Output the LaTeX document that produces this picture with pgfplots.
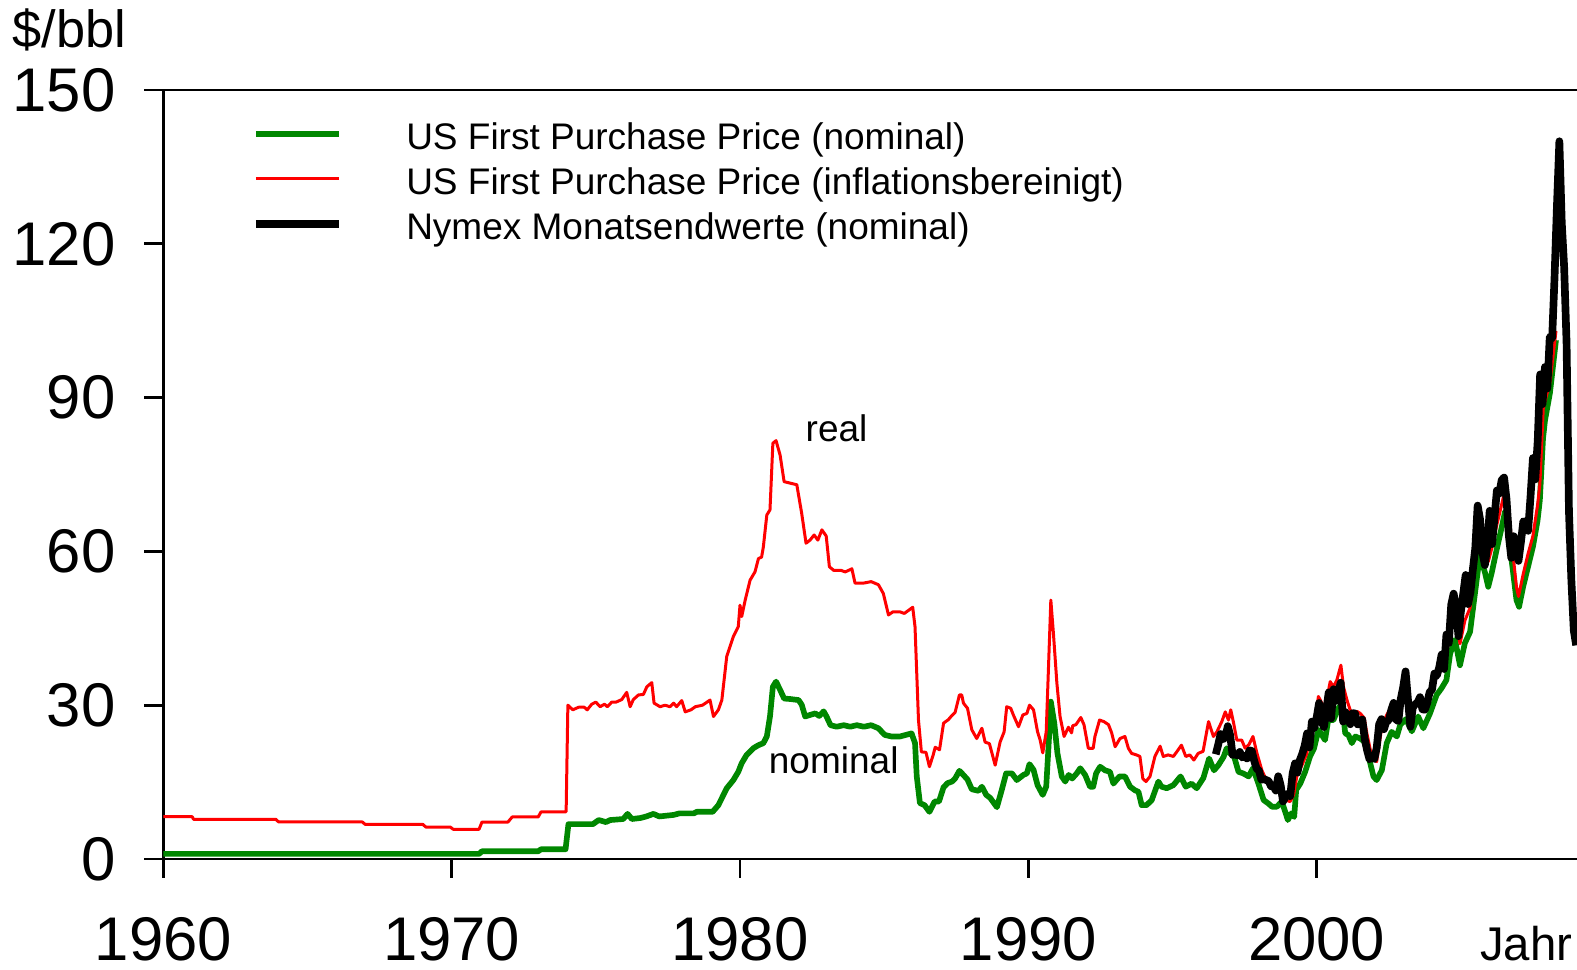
\documentclass[border=0pt]{standalone}
\usepackage{fontspec}
\setmainfont{Liberation Sans}
\usepackage{pgfplots}
\pgfplotsset{compat=1.18}
\definecolor{nomgreen}{RGB}{0,135,0}
\definecolor{realred}{RGB}{255,0,0}
\begin{document}
\begin{tikzpicture}
\useasboundingbox (-49pt,-33.3pt) rectangle (424.1pt,257.7pt);
\begin{axis}[
  scale only axis,
  width=424.1pt, height=230.7pt,
  xmin=1960, xmax=2009.03,
  ymin=0, ymax=150,
  axis x line*=box, axis y line*=left,
  axis line style={-, line width=0.8pt},
  tick pos=left,
  tick align=outside,
  major tick length=5.7pt,
  every tick/.style={black, line width=0.8pt},
  xtick={1960,1970,1980,1990,2000},
  ytick={0,30,60,90,120,150},
  /pgf/number format/1000 sep={},
  /pgf/number format/assume math mode=true,
  ticklabel style={font=\fontsize{18.5}{21}\selectfont, inner sep=0pt},
  yticklabel style={anchor=east, xshift=-8.5pt},
  xticklabel style={anchor=base, yshift=-24.8pt},
  xlabel={Jahr},
  xlabel style={font=\fontsize{14.2}{16}\selectfont, at={(axis description cs:0.9972,-0.1320)}, anchor=base east, inner sep=0pt},
  ylabel={\$/bbl},
  ylabel style={font=\fontsize{15.7}{18}\selectfont, rotate=-90, at={(axis description cs:-0.1070,1.0546)}, anchor=base west, inner sep=0pt},
  legend cell align=left,
  legend style={draw=none, fill=none, at={(axis description cs:0.0622,0.960)}, anchor=north west,
    font=\fontsize{11.1}{13}\selectfont, row sep=2.5pt, inner sep=0pt,
    nodes={inner sep=0pt, text height=8.5pt, text depth=2.5pt}},
  legend image code/.code={\draw[#1, line cap=butt] (0pt,1.8pt) -- (24.9pt,1.8pt); \path (44.0pt,1.8pt);},
]
\addplot[nomgreen, line width=1.7pt, line join=round] coordinates {
(1960,1.0) (1970.95,1.0) (1971.05,1.5) (1973.0,1.5) (1973.1,1.9) (1973.95,1.9) (1974.05,6.8) (1974.9,6.8)
(1975.1,7.6) (1975.35,7.2) (1975.5,7.6) (1975.95,7.8) (1976.1,8.8) (1976.25,7.8) (1976.55,8.0) (1976.75,8.3)
(1977.0,8.8) (1977.2,8.3) (1977.7,8.6) (1977.9,8.9) (1978.4,8.9) (1978.5,9.2) (1979.05,9.2) (1979.25,10.5)
(1979.54,13.8) (1979.77,15.4) (1979.94,17.0) (1980.06,18.7) (1980.23,20.3) (1980.46,21.6) (1980.64,22.2)
(1980.81,22.6) (1980.93,23.9) (1981.04,27.8) (1981.14,33.6) (1981.25,34.6) (1981.39,33.0) (1981.53,31.3)
(1981.75,31.2) (1982.03,31.0) (1982.14,30.1) (1982.26,27.8) (1982.43,28.1) (1982.61,28.4) (1982.75,27.9)
(1982.9,28.8) (1983.0,27.8) (1983.14,26.1) (1983.35,25.8) (1983.6,26.1) (1983.82,25.8) (1984.05,26.1)
(1984.3,25.8) (1984.55,26.1) (1984.8,25.5) (1985.02,24.2) (1985.25,23.9) (1985.55,23.9) (1985.95,24.5)
(1986.07,22.6) (1986.13,16.1) (1986.24,10.9) (1986.4,10.5) (1986.57,9.2) (1986.75,11.2) (1986.9,11.2)
(1987.06,14.0) (1987.2,14.8) (1987.35,15.1) (1987.46,15.7) (1987.61,17.2) (1987.73,16.5) (1987.89,15.5)
(1988.04,13.6) (1988.27,13.3) (1988.39,14.1) (1988.54,12.5) (1988.68,11.9) (1988.91,10.1) (1989.08,13.5)
(1989.23,16.7) (1989.43,16.7) (1989.6,15.4) (1989.83,16.4) (1989.95,16.7) (1990.04,18.5) (1990.18,17.4)
(1990.32,14.4) (1990.5,12.5) (1990.62,14.1) (1990.7,21.9) (1990.78,30.7) (1990.9,26.5) (1991.01,20.6)
(1991.16,16.1) (1991.28,15.1) (1991.4,16.4) (1991.52,15.7) (1991.68,16.7) (1991.8,17.7) (1991.97,16.4)
(1992.14,14.1) (1992.25,14.1) (1992.35,16.7) (1992.49,18.0) (1992.66,17.3) (1992.83,17.0) (1992.95,14.7)
(1993.16,16.1) (1993.35,16.1) (1993.53,14.1) (1993.7,13.4) (1993.82,13.1) (1993.93,10.5) (1994.1,10.5)
(1994.28,11.5) (1994.51,15.1) (1994.62,14.1) (1994.8,13.8) (1995.03,14.4) (1995.28,16.1) (1995.46,14.1)
(1995.66,14.7) (1995.84,13.8) (1996.07,15.8) (1996.27,19.6) (1996.44,17.3) (1996.59,18.3) (1996.77,19.9)
(1996.88,21.6) (1997.0,20.6) (1997.14,19.9) (1997.29,17.0) (1997.45,16.7) (1997.64,16.1) (1997.79,17.7)
(1997.98,14.7) (1998.16,11.5) (1998.33,10.8) (1998.45,10.2) (1998.62,10.2) (1998.79,11.2) (1998.91,9.2)
(1999.0,7.6) (1999.12,8.9) (1999.22,8.2) (1999.29,13.5) (1999.43,14.7) (1999.6,17.0) (1999.77,20.0)
(1999.91,21.6) (2000.06,25.2) (2000.18,24.2) (2000.29,23.2) (2000.4,27.1) (2000.58,27.1) (2000.78,29.7)
(2000.9,29.4) (2000.99,24.5) (2001.1,24.2) (2001.22,22.6) (2001.34,23.9) (2001.51,23.5) (2001.65,22.9)
(2001.8,20.0) (2001.97,16.1) (2002.08,15.4) (2002.26,17.3) (2002.43,22.6) (2002.6,24.8) (2002.78,23.9)
(2002.9,26.2) (2003.1,27.3) (2003.3,24.9) (2003.52,27.8) (2003.7,25.5) (2003.93,28.4) (2004.16,32.0)
(2004.33,33.3) (2004.5,34.9) (2004.63,40.1) (2004.8,42.7) (2004.97,37.8) (2005.14,42.1) (2005.32,44.3)
(2005.43,49.2) (2005.66,59.3) (2005.84,55.8) (2005.95,53.1) (2006.07,55.8) (2006.24,60.3) (2006.41,64.5)
(2006.53,67.7) (2006.64,64.8) (2006.76,58.3) (2006.93,50.5) (2007.02,49.2) (2007.16,53.1) (2007.33,57.0)
(2007.5,60.9) (2007.66,66.0) (2007.74,70.0) (2007.85,82.0) (2007.92,85.6) (2008.09,90.9) (2008.3,101.2)
};
\addlegendentry{US First Purchase Price (nominal)}
\addplot[realred, line width=0.9pt, line join=round] coordinates {
(1960,8.25) (1961.0,8.25) (1961.05,7.74) (1963.9,7.74) (1964.0,7.22) (1966.9,7.22) (1967.0,6.76) (1969.0,6.76)
(1969.1,6.24) (1969.95,6.24) (1970.05,5.8) (1970.95,5.8) (1971.05,7.2) (1971.95,7.2) (1972.1,8.2) (1973.0,8.2)
(1973.1,9.2) (1973.97,9.2) (1974.03,30.0) (1974.2,29.1) (1974.4,29.6) (1974.6,29.6) (1974.7,29.1) (1974.86,30.2)
(1975.0,30.6) (1975.15,29.7) (1975.3,30.2) (1975.4,29.7) (1975.55,30.6) (1975.7,30.6) (1975.9,31.1) (1976.07,32.5)
(1976.19,29.7) (1976.3,31.1) (1976.48,32.0) (1976.65,32.1) (1976.77,33.6) (1976.94,34.4) (1977.02,30.4)
(1977.23,29.7) (1977.4,30.0) (1977.57,29.7) (1977.7,30.4) (1977.8,29.7) (1977.98,30.9) (1978.1,28.7)
(1978.3,29.1) (1978.45,29.7) (1978.7,30.0) (1978.96,31.0) (1979.08,27.8) (1979.25,29.1) (1979.37,31.0)
(1979.54,39.5) (1979.77,43.4) (1979.94,45.3) (1980.0,49.5) (1980.06,47.3) (1980.18,50.5) (1980.35,54.4)
(1980.52,56.0) (1980.64,58.6) (1980.75,58.9) (1980.81,60.9) (1980.93,67.1) (1981.04,68.1) (1981.14,81.1)
(1981.25,81.6) (1981.39,78.8) (1981.53,73.6) (1981.75,73.3) (1981.97,73.0) (1982.14,67.4) (1982.29,61.6)
(1982.43,62.2) (1982.57,63.2) (1982.7,62.2) (1982.84,64.2) (1982.99,63.0) (1983.1,57.0) (1983.25,56.3)
(1983.5,56.3) (1983.65,56.0) (1983.88,56.6) (1983.99,53.8) (1984.27,53.8) (1984.55,54.1) (1984.8,53.5)
(1984.97,51.8) (1985.15,47.6) (1985.3,48.2) (1985.55,48.2) (1985.7,47.9) (1985.99,49.1) (1986.07,45.3)
(1986.19,27.1) (1986.29,20.9) (1986.45,20.8) (1986.57,18.0) (1986.7,20.3) (1986.77,21.8) (1986.92,21.3)
(1987.06,26.5) (1987.23,27.2) (1987.35,28.0) (1987.46,28.6) (1987.54,30.4) (1987.61,32.0) (1987.69,32.0)
(1987.75,30.4) (1987.89,29.4) (1988.04,25.2) (1988.21,23.5) (1988.39,25.5) (1988.5,22.8) (1988.65,22.5)
(1988.85,18.3) (1989.02,22.8) (1989.16,24.8) (1989.25,29.7) (1989.39,29.4) (1989.48,28.1) (1989.66,25.8)
(1989.81,28.1) (1989.95,28.4) (1990.04,30.0) (1990.18,29.1) (1990.32,24.8) (1990.41,23.2) (1990.5,20.7)
(1990.62,24.8) (1990.7,37.5) (1990.78,50.5) (1990.87,44.0) (1990.99,34.3) (1991.1,27.8) (1991.24,23.9)
(1991.39,25.7) (1991.5,24.6) (1991.54,26.0) (1991.65,26.2) (1991.82,27.6) (1991.93,26.2) (1992.08,21.6)
(1992.25,21.6) (1992.31,23.9) (1992.47,27.1) (1992.62,26.8) (1992.78,26.2) (1992.89,24.6) (1993.01,21.9)
(1993.18,23.5) (1993.35,23.9) (1993.47,21.6) (1993.58,20.6) (1993.75,20.3) (1993.87,20.0) (1993.97,15.7)
(1994.08,15.1) (1994.22,16.1) (1994.39,20.0) (1994.57,22.0) (1994.68,20.0) (1994.85,20.3) (1995.03,20.0)
(1995.16,21.0) (1995.31,22.2) (1995.46,20.0) (1995.6,20.3) (1995.74,19.3) (1995.89,20.6) (1996.06,21.0)
(1996.25,26.8) (1996.42,23.9) (1996.54,24.8) (1996.71,26.8) (1996.83,28.7) (1996.94,27.1) (1997.02,29.1)
(1997.12,26.5) (1997.23,23.2) (1997.4,23.2) (1997.52,21.6) (1997.65,22.3) (1997.79,23.9) (1997.93,20.6)
(1998.1,17.3) (1998.28,15.1) (1998.45,14.4) (1998.62,13.1) (1998.75,14.1) (1998.91,11.5) (1999.08,11.2)
(1999.2,12.5) (1999.31,16.1) (1999.49,18.3) (1999.66,20.6) (1999.77,25.5) (1999.95,26.8) (2000.06,31.7)
(2000.18,30.4) (2000.29,29.4) (2000.47,34.6) (2000.58,33.6) (2000.7,34.9) (2000.84,37.8) (2000.93,33.6)
(2001.05,31.0) (2001.16,29.1) (2001.28,27.8) (2001.4,28.8) (2001.51,28.4) (2001.65,27.5) (2001.74,24.5)
(2001.91,20.0) (2002.08,19.0) (2002.26,25.8) (2002.43,28.1) (2002.66,30.4) (2002.84,27.8) (2003.01,33.0)
(2003.12,30.4) (2003.24,25.8) (2003.41,29.7) (2003.58,31.7) (2003.7,29.0) (2003.93,32.5) (2004.16,36.0)
(2004.33,37.5) (2004.5,39.5) (2004.63,45.5) (2004.8,47.5) (2004.97,42.0) (2005.14,46.5) (2005.32,49.0)
(2005.43,54.0) (2005.66,65.0) (2005.84,61.0) (2005.95,58.0) (2006.07,60.5) (2006.24,65.0) (2006.41,69.0)
(2006.53,72.0) (2006.64,69.0) (2006.76,62.0) (2006.93,53.0) (2007.0,51.2) (2007.16,55.5) (2007.33,59.5)
(2007.5,63.0) (2007.66,69.0) (2007.74,73.0) (2007.86,88.0) (2008.09,93.0) (2008.3,103.0)
};
\addlegendentry{US First Purchase Price (inflationsbereinigt)}
\addplot[black, line width=2.3pt, line join=round] coordinates {
(1996.500,20.42) (1996.583,22.25) (1996.667,24.38) (1996.750,23.35) (1996.833,23.75) (1996.917,25.92)
(1997.000,24.15) (1997.083,20.30) (1997.167,20.41) (1997.250,20.21) (1997.333,20.88) (1997.417,19.80)
(1997.500,20.14) (1997.583,19.61) (1997.667,21.18) (1997.750,21.08) (1997.833,19.15) (1997.917,17.64)
(1998.000,17.21) (1998.083,15.44) (1998.167,15.61) (1998.250,15.39) (1998.333,15.20) (1998.417,14.18)
(1998.500,14.21) (1998.583,13.34) (1998.667,16.14) (1998.750,14.42) (1998.833,11.22) (1998.917,12.05)
(1999.000,12.75) (1999.083,12.27) (1999.167,16.76) (1999.250,18.66) (1999.333,16.84) (1999.417,19.29)
(1999.500,20.53) (1999.583,22.10) (1999.667,24.51) (1999.750,21.75) (1999.833,26.80) (1999.917,25.60)
(2000.000,27.64) (2000.083,30.43) (2000.167,26.90) (2000.250,25.74) (2000.333,29.01) (2000.417,32.50)
(2000.500,27.43) (2000.583,33.12) (2000.667,30.84) (2000.750,32.70) (2000.833,34.40) (2000.917,26.80)
(2001.000,28.66) (2001.083,27.39) (2001.167,26.29) (2001.250,28.46) (2001.333,28.37) (2001.417,26.25)
(2001.500,26.35) (2001.583,27.20) (2001.667,23.43) (2001.750,21.18) (2001.833,19.44) (2001.917,19.84)
(2002.000,19.48) (2002.083,21.74) (2002.167,26.31) (2002.250,27.29) (2002.333,25.31) (2002.417,26.86)
(2002.500,27.02) (2002.583,28.98) (2002.667,30.45) (2002.750,27.22) (2002.833,26.89) (2002.917,31.20)
(2003.000,33.51) (2003.083,36.60) (2003.167,31.04) (2003.250,25.80) (2003.333,29.56) (2003.417,30.19)
(2003.500,30.54) (2003.583,31.57) (2003.667,29.20) (2003.750,29.11) (2003.833,30.41) (2003.917,32.52)
(2004.000,33.05) (2004.083,36.16) (2004.167,35.76) (2004.250,37.38) (2004.333,39.88) (2004.417,37.05)
(2004.500,43.80) (2004.583,42.12) (2004.667,49.64) (2004.750,51.76) (2004.833,49.13) (2004.917,43.45)
(2005.000,48.20) (2005.083,51.75) (2005.167,55.40) (2005.250,49.72) (2005.333,51.97) (2005.417,56.50)
(2005.500,60.57) (2005.583,68.94) (2005.667,66.24) (2005.750,59.76) (2005.833,57.32) (2005.917,61.04)
(2006.000,67.92) (2006.083,61.41) (2006.167,66.63) (2006.250,71.88) (2006.333,71.29) (2006.417,73.93)
(2006.500,74.40) (2006.583,70.26) (2006.667,62.91) (2006.750,58.73) (2006.833,62.97) (2006.917,61.05)
(2007.000,58.14) (2007.083,61.79) (2007.167,65.87) (2007.250,65.71) (2007.333,64.01) (2007.417,70.68)
(2007.500,78.21) (2007.583,74.04) (2007.667,81.66) (2007.750,94.53) (2007.833,88.71) (2007.917,95.98)
(2008.000,91.75) (2008.083,101.84) (2008.167,101.58) (2008.250,113.46) (2008.333,127.35) (2008.417,140.00)
(2008.500,124.08) (2008.583,115.46) (2008.667,100.64) (2008.750,67.81) (2008.833,54.43) (2008.917,44.60)
(2009.000,41.68)
};
\addlegendentry{Nymex Monatsendwerte (nominal)}
\node[anchor=base, font=\fontsize{11.1}{13}\selectfont, inner sep=0pt] at (axis cs:1983.35,81.5) {real};
\node[anchor=base, font=\fontsize{11.1}{13}\selectfont, inner sep=0pt] at (axis cs:1983.25,16.6) {nominal};
\end{axis}
\end{tikzpicture}
\end{document}
